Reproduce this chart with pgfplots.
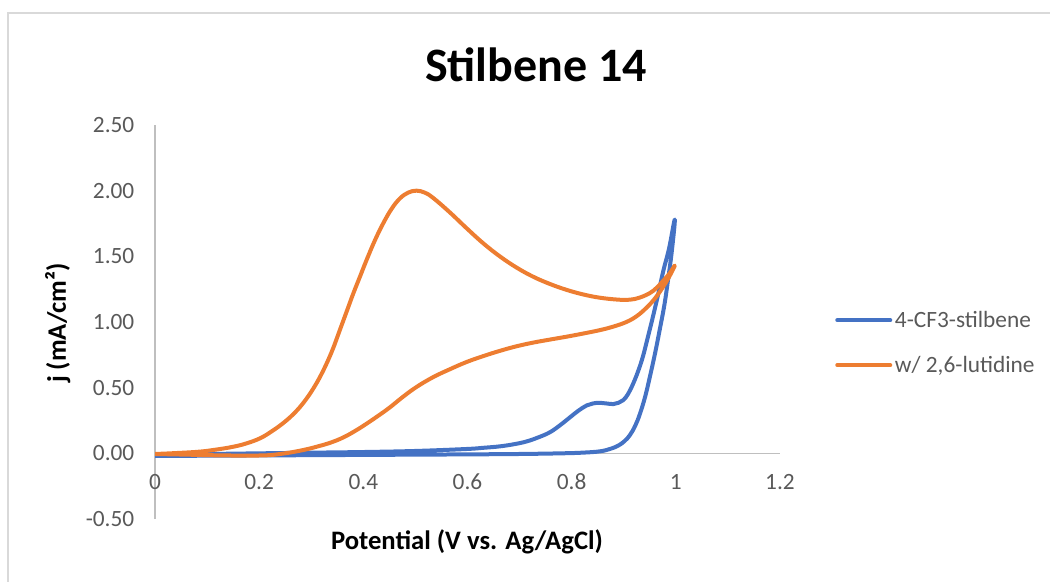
\documentclass[border=0pt]{standalone}
\usepackage{fontspec}
\setmainfont{Carlito}
\usepackage{pgfplots}
\pgfplotsset{compat=1.18}
\definecolor{xlblue}{HTML}{4472C4}
\definecolor{xlorange}{HTML}{ED7D31}
\definecolor{axisgray}{HTML}{BFBFBF}
\definecolor{bordergray}{HTML}{D9D9D9}
\definecolor{ticktext}{HTML}{595959}
\begin{document}
\begin{tikzpicture}
\useasboundingbox (0pt,0pt) rectangle (787.5pt,436.5pt);
\draw[bordergray, line width=0.9pt] (6pt,0pt) -- (6pt,426.75pt) -- (787.5pt,426.75pt);
\node[font=\fontsize{36}{40}\selectfont\bfseries, anchor=base] at (402pt,375pt) {Stilbene 14};
\node[font=\fontsize{20}{24}\selectfont\bfseries, anchor=base] at (350.25pt,24pt) {Potential (V vs. Ag/AgCl)};
\node[font=\fontsize{20}{24}\selectfont\bfseries, anchor=base, rotate=90] at (49.5pt,194.25pt) {j (mA/cm²)};
\begin{axis}[
  at={(116.25pt,47.25pt)}, anchor=south west,
  scale only axis, width=468.75pt, height=295.5pt,
  xmin=0, xmax=1.2, ymin=-0.5, ymax=2.5,
  axis x line=middle, axis y line=left,
  axis line style={draw=axisgray, line width=0.9pt, -},
  xtick={0,0.2,0.4,0.6,0.8,1,1.2},
  xticklabels={0,0.2,0.4,0.6,0.8,1,1.2},
  ytick={-0.5,0,0.5,1,1.5,2,2.5},
  yticklabels={-0.50,0.00,0.50,1.00,1.50,2.00,2.50},
  major tick length=0pt,
  hide obscured x ticks=false, hide obscured y ticks=false,
  tick label style={font=\fontsize{17.5}{20}\selectfont, text=ticktext},
  xticklabel style={anchor=north, yshift=-12pt},
  yticklabel style={anchor=east, xshift=-12pt},
  legend style={at={(1.088,0.535)}, anchor=north west, draw=none, fill=none,
    font=\fontsize{17.5}{20}\selectfont, text=ticktext, row sep=16pt, inner sep=0pt,
    cells={anchor=west}},
  legend image code/.code={\draw[#1, line cap=round] (0pt,0pt) -- (39.75pt,0pt);},
  every axis plot/.append style={line width=3pt, line join=round, line cap=round},
]
\addplot[xlblue, smooth, tension=0.65] coordinates {
(0,-0.02) (0.1,-0.018) (0.2,-0.016) (0.3,-0.014) (0.4,-0.012) (0.5,-0.01) (0.6,-0.008)
(0.7,-0.005) (0.78,0.0) (0.82,0.005) (0.854,0.015) (0.875,0.035) (0.89,0.06) (0.902,0.095) (0.912,0.14)
(0.922,0.21) (0.931,0.30) (0.941,0.43) (0.95,0.58) (0.96,0.76) (0.969,0.94) (0.978,1.13)
(0.985,1.32) (0.992,1.53) (0.998,1.78)
(0.987,1.56) (0.976,1.39) (0.966,1.21) (0.956,1.04) (0.946,0.88) (0.937,0.74) (0.928,0.63)
(0.918,0.53) (0.908,0.45) (0.899,0.405) (0.89,0.385) (0.88,0.375) (0.866,0.38) (0.854,0.385)
(0.841,0.38) (0.829,0.365) (0.813,0.325) (0.797,0.275) (0.778,0.215) (0.758,0.16) (0.735,0.12)
(0.713,0.09) (0.69,0.07) (0.662,0.053) (0.63,0.042) (0.598,0.033) (0.5,0.018) (0.4,0.01)
(0.3,0.005) (0.2,0.0) (0.1,-0.005) (0,-0.01)
};
\addlegendentry{4-CF3-stilbene}
\addplot[xlorange, smooth, tension=0.65] coordinates {
(0,-0.005) (0.06,-0.01) (0.118,-0.015) (0.17,-0.017) (0.214,-0.015) (0.24,-0.005)
(0.265,0.01) (0.29,0.03) (0.31,0.05) (0.336,0.08) (0.361,0.12) (0.384,0.17) (0.406,0.225)
(0.43,0.29) (0.451,0.35) (0.476,0.43) (0.502,0.505) (0.534,0.58) (0.566,0.64) (0.598,0.695)
(0.63,0.74) (0.662,0.78) (0.694,0.815) (0.726,0.843) (0.758,0.866) (0.79,0.888) (0.822,0.912)
(0.854,0.938) (0.88,0.965) (0.905,1.00) (0.925,1.045) (0.944,1.11) (0.96,1.18) (0.976,1.27)
(0.988,1.35) (0.998,1.43)
(0.988,1.37) (0.976,1.315) (0.963,1.26) (0.95,1.22) (0.93,1.185) (0.912,1.17) (0.89,1.17)
(0.854,1.185) (0.822,1.21) (0.79,1.245) (0.758,1.29) (0.726,1.345) (0.694,1.415) (0.662,1.50)
(0.63,1.60) (0.598,1.715) (0.566,1.835) (0.534,1.945) (0.518,1.985) (0.502,2.00) (0.486,1.985)
(0.47,1.94) (0.454,1.86) (0.438,1.75) (0.422,1.62) (0.406,1.47) (0.394,1.35) (0.381,1.22)
(0.368,1.08) (0.355,0.94) (0.34,0.78) (0.323,0.63) (0.305,0.50) (0.285,0.385) (0.266,0.30)
(0.246,0.23) (0.225,0.17) (0.202,0.115) (0.175,0.075) (0.15,0.05) (0.12,0.03) (0.086,0.013)
(0.04,0.002) (0,-0.005)
};
\addlegendentry{w/ 2,6-lutidine}
\end{axis}
\end{tikzpicture}
\end{document}
